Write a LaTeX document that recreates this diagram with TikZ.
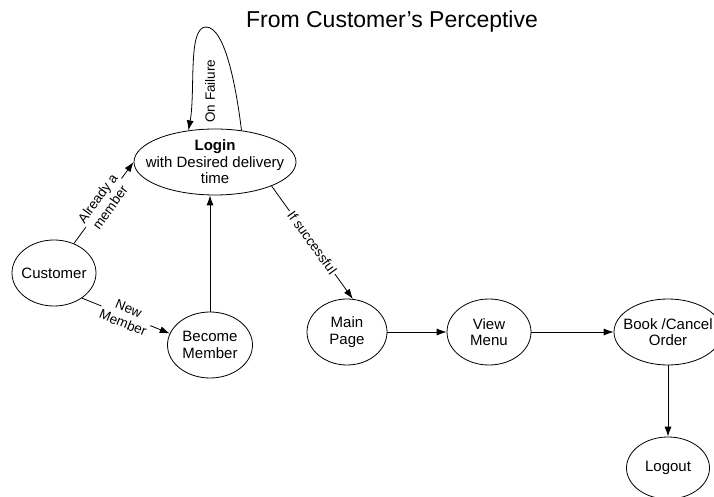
\documentclass[tikz,border=0pt]{standalone}
\usepackage{fontspec}
\setmainfont{Liberation Sans}
\usetikzlibrary{shapes.geometric,arrows.meta}

\begin{document}
\begin{tikzpicture}[x=1bp,y=-1bp,>={Latex[length=10bp,width=7bp]},line width=0.8bp,
                    state/.style={ellipse,draw,inner sep=0pt,minimum width=84bp,minimum height=66bp},
                    txt/.style={align=center,font=\fontsize{15bp}{16.5bp}\selectfont},
                    lbl/.style={align=center,fill=white,inner sep=1.5bp,
                                font=\fontsize{13.5bp}{15.5bp}\selectfont}]
\useasboundingbox (0,0) rectangle (714,497);

\node[font=\fontsize{23bp}{26bp}\selectfont] (title) at (392,22) {From Customer's Perceptive};

\node[state,minimum width=162bp,label={[txt]center:\textbf{Login}\\with Desired delivery\\time}] (login) at (215,162) {};
\node[state,label={[txt]center:Customer}] (cust) at (54,273) {};
\node[state,minimum width=85bp,label={[txt]center:Become\\Member}] (become) at (210,345) {};
\node[state,minimum width=80bp,label={[txt]center:Main\\Page}] (main) at (347,332) {};
\node[state,label={[txt]center:View\\Menu}] (view) at (489,332) {};
\node[state,minimum width=108bp,label={[txt]center:Book /Cancel\\Order}] (book) at (668,332) {};
\node[state,minimum width=83bp,minimum height=62bp,label={[txt]center:Logout}] (logout) at (668,468) {};

\path[->]
  (cust.56) edge node[lbl,sloped] (member) {Already a\\member} (login.west)
  (cust.-42) edge node[lbl,sloped] (new) {New\\Member} (become.164)
  (become) edge (become |- login.south)
  (login.-23) edge node[lbl,sloped] (success) {If successful} (main.80)
  (main) edge (view)
  (view) edge (book)
  (book) edge (logout);

% retry loop over the login
\coordinate (looptop) at (206,27);
\draw[->] (login.50) to[out=97,in=0,in looseness=0.45] (looptop)
                     to[out=180,in=80,out looseness=0.45] (login.130);
\node[lbl,fill=none,rotate=90] (failure) at (210,91) {On Failure};

\end{tikzpicture}
\end{document}
